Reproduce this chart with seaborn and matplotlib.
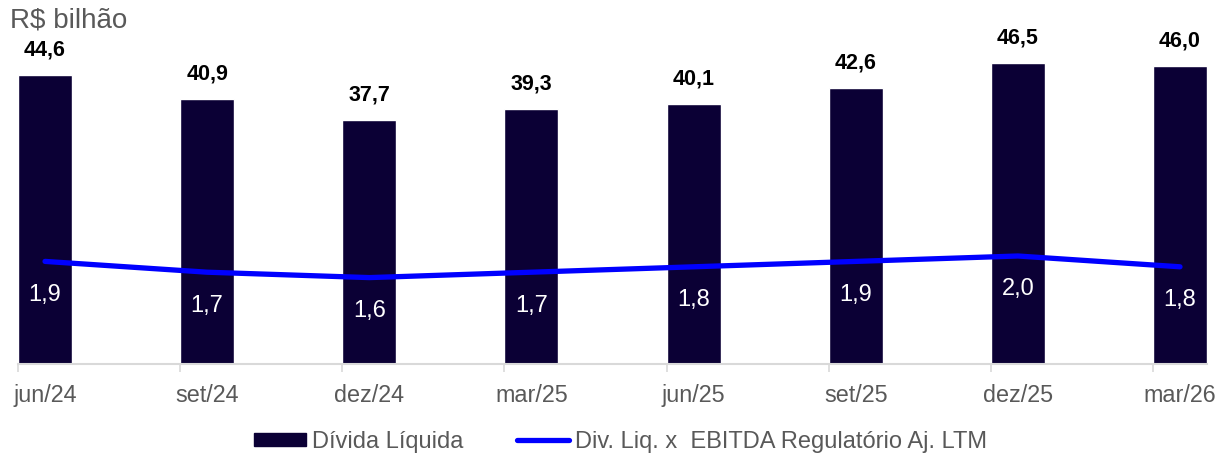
import numpy as np
import matplotlib
matplotlib.use("Agg")
import matplotlib.pyplot as plt
from matplotlib.patches import Patch
from matplotlib.lines import Line2D
import seaborn as sns
import pandas as pd

# Data
periods = ["jun/24", "set/24", "dez/24", "mar/25", "jun/25", "set/25", "dez/25", "mar/26"]
net_debt = [44.6, 40.9, 37.7, 39.3, 40.1, 42.6, 46.5, 46.0]
leverage = [1.9, 1.7, 1.6, 1.7, 1.8, 1.9, 2.0, 1.8]
unit_label = "R$ bilhão"
bar_name = "Dívida Líquida"
line_name = "Div. Liq. x  EBITDA Regulatório Aj. LTM"

BAR_COLOR = "#0B0035"
LINE_COLOR = "#0000FF"
GREY = "#595959"

sns.set_theme(style="white")
plt.rcParams["font.family"] = ["Liberation Sans", "DejaVu Sans"]

fig = plt.figure(figsize=(12.17, 4.55), dpi=100)
ax = fig.add_axes([0.0148, 0.2, 0.977, 0.756])

df = pd.DataFrame({"period": periods, "debt": net_debt, "lev": leverage})
bw = 1 / 3
sns.barplot(data=df, x="period", y="debt", color=BAR_COLOR, width=bw,
            saturation=1, ax=ax, zorder=2)
ax.set_xlim(-bw / 2, len(periods) - 1 + bw / 2)
ax.set_ylim(0, 53.1)
ax.set_xlabel("")
ax.set_ylabel("")
ax.set_yticks([])

# category axis: labels under bars, tick marks at bar left edges
x = np.arange(len(periods))
ax.set_xticks(x, periods)
ax.tick_params(axis="x", length=0, pad=14.5, labelsize=16.8, labelcolor=GREY)
ax.set_xticks(x - bw / 2, minor=True)
ax.tick_params(axis="x", which="minor", length=6, width=1.2, color="#D9D9D9",
               direction="out", bottom=True)
for side in ["top", "right", "left"]:
    ax.spines[side].set_visible(False)
ax.spines["bottom"].set_color("#D9D9D9")
ax.spines["bottom"].set_linewidth(1.5)

for xi, v in zip(x, net_debt):
    ax.annotate(f"{v:.1f}".replace(".", ","), (xi, v), xytext=(0, 18),
                textcoords="offset points", ha="center", va="center",
                fontsize=15.5, fontweight="bold", color="black")

# leverage on a secondary axis
ax2 = ax.twinx()
sns.lineplot(x=x, y=leverage, color=LINE_COLOR, linewidth=3.8, ax=ax2,
             zorder=3, solid_capstyle="round")
ax2.set_ylim(0, 6.37)
ax2.set_yticks([])
ax2.set_ylabel("")
for side in ["top", "right", "left", "bottom"]:
    ax2.spines[side].set_visible(False)
for xi, v in zip(x, leverage):
    ax2.annotate(f"{v:.1f}".replace(".", ","), (xi, v), xytext=(0, -24),
                 textcoords="offset points", ha="center", va="center",
                 fontsize=17, color="white")

fig.text(10 / 1217, 1 - 21 / 455, unit_label, fontsize=20, color=GREY,
         ha="left", va="center")

handles = [Patch(facecolor=BAR_COLOR, edgecolor=BAR_COLOR),
           Line2D([0], [0], color=LINE_COLOR, linewidth=3.8)]
fig.legend(handles, [bar_name, line_name], loc="center",
           bbox_to_anchor=(0.51, 1 - 442 / 455), ncol=2, frameon=False,
           fontsize=17, labelcolor=GREY, handlelength=2.2, handleheight=0.5,
           handletextpad=0.25, columnspacing=2.3)

fig.savefig("out.png", dpi=100)
